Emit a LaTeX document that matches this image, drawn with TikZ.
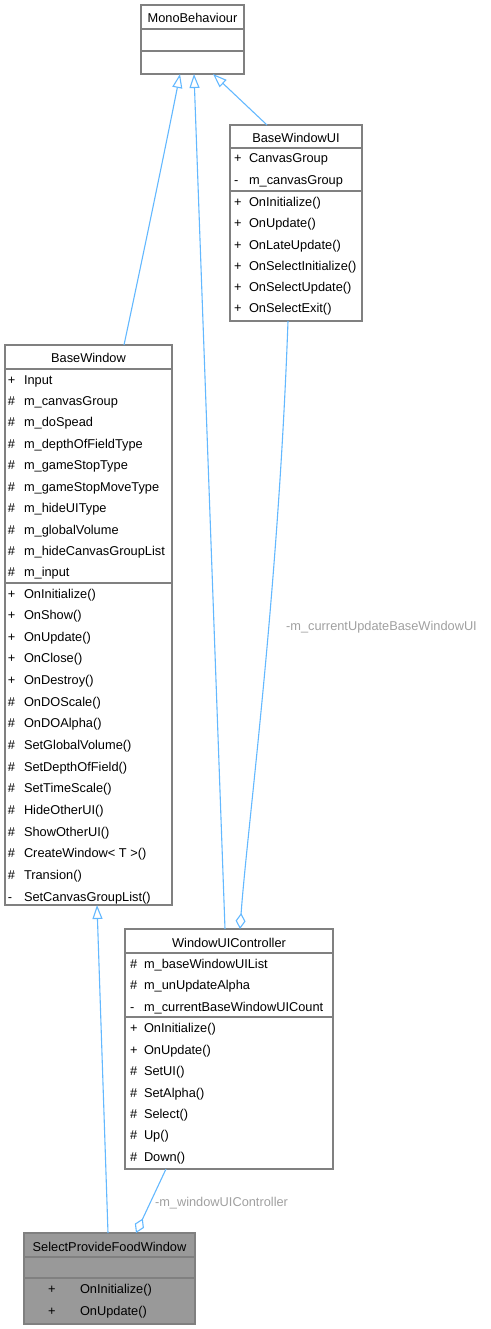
\documentclass[tikz,border=0pt]{standalone}
\usepackage{fontspec}
\setmainfont{Liberation Sans}
\usetikzlibrary{arrows.meta,calc}
\definecolor{edgeblue}{HTML}{63B8FF}
\definecolor{boxborder}{HTML}{808080}
\definecolor{labelgray}{HTML}{A0A0A0}
\definecolor{spffill}{HTML}{999999}
\begin{document}
\begin{tikzpicture}[x=1pt,y=-1pt,
  umlbox/.style={draw=boxborder,line width=1.4pt,fill=white,anchor=north west,outer sep=0pt,inner sep=0pt},
  divider/.style={draw=boxborder,line width=1.3pt},
  txt/.style={inner sep=0pt,outer sep=0pt,text height=9pt,text depth=0pt,font=\fontsize{12.8}{15}\selectfont},
  rowtxt/.style={txt,anchor=west},
  headtxt/.style={txt,anchor=center},
  elabel/.style={txt,text=labelgray},
  inherit/.style={draw=edgeblue,line width=1.1pt,-{Triangle[open,length=14pt,width=10pt,line width=1.1pt]}},
  aggreg/.style={draw=edgeblue,line width=1.1pt,-{Diamond[open,length=16pt,width=10pt,line width=1.1pt]}}
]
\useasboundingbox (0,0) rectangle (490,1329);

% MonoBehaviour
\node[umlbox,minimum width=103pt,minimum height=69pt] (mono) at (141,5) {};
\draw[divider] (141,29) -- (244,29);
\draw[divider] (141,51) -- (244,51);
\node[headtxt] (mono-h) at (192.5,18.3) {MonoBehaviour};

% BaseWindowUI
\node[umlbox,minimum width=132pt,minimum height=196pt] (bwui) at (230,125) {};
\draw[divider] (230,148) -- (362,148);
\draw[divider] (230,191) -- (362,191);
\node[headtxt] (bwui-h) at (296,138) {BaseWindowUI};
\foreach \s/\n [count=\i from 0] in {+/CanvasGroup,-/m\_canvasGroup}{
  \node[rowtxt] (bwui-as\i) at ({234},{158.5+\i*21.4}) {\s};
  \node[rowtxt] (bwui-an\i) at ({249},{158.5+\i*21.4}) {\n};
}
\foreach \s/\n [count=\i from 0] in {+/OnInitialize(),+/OnUpdate(),+/OnLateUpdate(),+/OnSelectInitialize(),+/OnSelectUpdate(),+/OnSelectExit()}{
  \node[rowtxt] (bwui-ms\i) at ({234},{202.3+\i*21.2}) {\s};
  \node[rowtxt] (bwui-mn\i) at ({249},{202.3+\i*21.2}) {\n};
}

% BaseWindow
\node[umlbox,minimum width=167pt,minimum height=560pt] (bw) at (5,345) {};
\draw[divider] (5,369) -- (172,369);
\draw[divider] (5,583) -- (172,583);
\node[headtxt] (bw-h) at (88.5,357.5) {BaseWindow};
\foreach \s/\n [count=\i from 0] in {+/Input,\#/m\_canvasGroup,\#/m\_doSpead,\#/m\_depthOfFieldType,\#/m\_gameStopType,\#/m\_gameStopMoveType,\#/m\_hideUIType,\#/m\_globalVolume,\#/m\_hideCanvasGroupList,\#/m\_input}{
  \node[rowtxt] (bw-as\i) at ({8},{379.5+\i*21.44}) {\s};
  \node[rowtxt] (bw-an\i) at ({24},{379.5+\i*21.44}) {\n};
}
\foreach \s/\n [count=\i from 0] in {+/OnInitialize(),+/OnShow(),+/OnUpdate(),+/OnClose(),+/OnDestroy(),\#/OnDOScale(),\#/OnDOAlpha(),\#/SetGlobalVolume(),\#/SetDepthOfField(),\#/SetTimeScale(),\#/HideOtherUI(),\#/ShowOtherUI(),\#/CreateWindow< T >(),\#/Transion(),-/SetCanvasGroupList()}{
  \node[rowtxt] (bw-ms\i) at ({8},{593.5+\i*21.65}) {\s};
  \node[rowtxt] (bw-mn\i) at ({24},{593.5+\i*21.65}) {\n};
}

% WindowUIController
\node[umlbox,minimum width=208pt,minimum height=240pt] (wuc) at (125,929) {};
\draw[divider] (125,953) -- (333,953);
\draw[divider] (125,1017) -- (333,1017);
\node[headtxt] (wuc-h) at (229,942.5) {WindowUIController};
\foreach \s/\n [count=\i from 0] in {\#/m\_baseWindowUIList,\#/m\_unUpdateAlpha,-/m\_currentBaseWindowUICount}{
  \node[rowtxt] (wuc-as\i) at ({130},{963.5+\i*21.6}) {\s};
  \node[rowtxt] (wuc-an\i) at ({144},{963.5+\i*21.6}) {\n};
}
\foreach \s/\n [count=\i from 0] in {+/OnInitialize(),+/OnUpdate(),\#/SetUI(),\#/SetAlpha(),\#/Select(),\#/Up(),\#/Down()}{
  \node[rowtxt] (wuc-ms\i) at ({130},{1028.3+\i*21.4}) {\s};
  \node[rowtxt] (wuc-mn\i) at ({144},{1028.3+\i*21.4}) {\n};
}

% SelectProvideFoodWindow
\node[umlbox,fill=spffill,minimum width=171pt,minimum height=91pt] (spf) at (24,1233) {};
\draw[divider] (24,1257) -- (195,1257);
\draw[divider] (24,1278) -- (195,1278);
\node[headtxt] (spf-h) at (109.5,1246.5) {SelectProvideFoodWindow};
\foreach \s/\n [count=\i from 0] in {+/OnInitialize(),+/OnUpdate()}{
  \node[rowtxt] (spf-ms\i) at ({48},{1289.3+\i*21.4}) {\s};
  \node[rowtxt] (spf-mn\i) at ({80},{1289.3+\i*21.4}) {\n};
}

% connectors
\draw[inherit] ($(bw.north west)+(119,0)$) .. controls (140,270) and (165,150) .. ($(mono.south west)+(39,0)$);
\draw[inherit] ($(wuc.north west)+(100,0)$) -- ($(mono.south west)+(53,0)$);
\draw[inherit] ($(bwui.north west)+(37,0)$) -- ($(mono.south west)+(72,0)$);
\draw[aggreg] ($(bwui.south west)+(58,0)$) .. controls (278,600) and (247,830) .. ($(wuc.north west)+(115,0)$);
\draw[inherit] ($(spf.north west)+(84,0)$) -- ($(bw.south west)+(92,0)$);
\draw[aggreg] ($(wuc.south west)+(41,0)$) -- ($(spf.north west)+(112,0)$);

\node[elabel,anchor=center] (lbl1) at (381.5,626) {-m\_currentUpdateBaseWindowUI};
\node[elabel,anchor=west] (lbl2) at (155,1202) {-m\_windowUIController};
\end{tikzpicture}
\end{document}
